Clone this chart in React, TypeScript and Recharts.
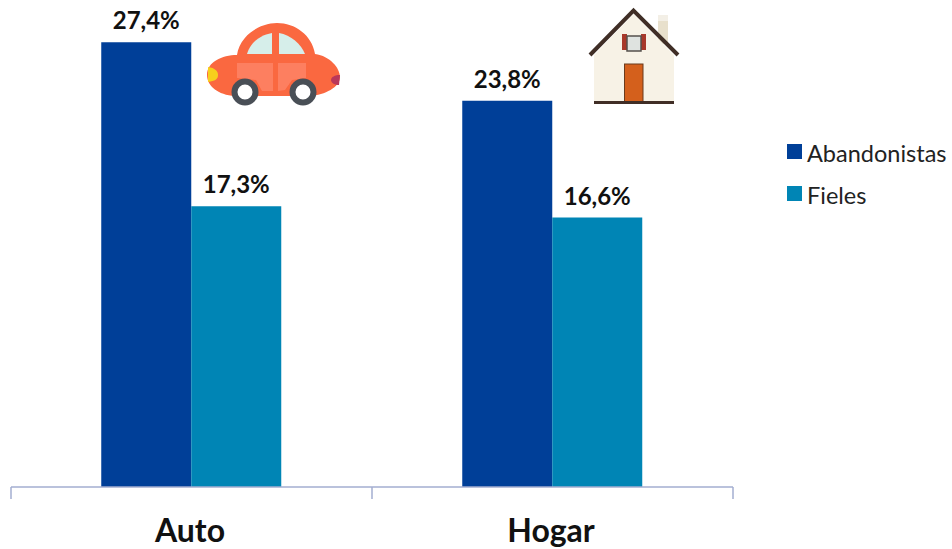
import { Bar, BarChart, LabelList, Legend, XAxis, YAxis } from "recharts";

const categories = ["Auto", "Hogar"];
const abandonistas = [27.4, 23.8];
const fieles = [17.3, 16.6];
const data = categories.map((name, i) => ({ name, Abandonistas: abandonistas[i], Fieles: fieles[i] }));

const FONT = "Lato, 'Open Sans', sans-serif";
const AXIS_COLOR = "#a3aed0";

const fmt = (v: any) => String(v.toFixed(1)).replace(".", ",") + "%";

function CatTick(props: any) {
    const { x, y, payload, index, visibleTicksCount, width } = props;
    const half = width / (visibleTicksCount || 2) / 2;
    const isLast = index === visibleTicksCount - 1;
    const top = y - 8;
    return (
        <g>
            <line x1={x - half} x2={x - half} y1={top} y2={top + 12} stroke={AXIS_COLOR} strokeWidth={1.5} />
            {isLast && <line x1={x + half} x2={x + half} y1={top} y2={top + 12} stroke={AXIS_COLOR} strokeWidth={1.5} />}
            <text x={x - 1.5} y={top + 55} textAnchor="middle" fontFamily={FONT} fontWeight={700} fontSize={32} fill="#111">
                {payload.value}
            </text>
        </g>
    );
}

function LegendBox({ payload }: any) {
    return (
        <div>
            {(payload || []).map((e: any) => (
                <div key={e.value} style={{ height: 42, display: "flex", alignItems: "center" }}>
                    <span style={{ width: 15, height: 15, marginRight: 5, background: e.color, position: "relative", top: -1.5 }} />
                    <span style={{ color: "#222" }}>{e.value}</span>
                </div>
            ))}
        </div>
    );
}

function Car() {
    return (
        <g filter="url(#soft)">
            <path d="M237 55C240 35 260 23 277 23C295 23 312 35 315 54C330 56 340 68 340 77C340 87 325 95 310 96L235 96C218 95 207 86 207 75C207 62 222 55 237 55Z" fill="#fa6740" />
            <path d="M247 54C250 43 260 35 272 33L272 54Z" fill="#d6eeea" />
            <path d="M279 33C291 35 301 44 305 54L279 54Z" fill="#d6eeea" />
            <path d="M237 63L273 63L273 91L262 91L256 80L237 78Z" fill="#fd7f60" />
            <path d="M278 63L306 63L306 78L292 80L285 90L278 91Z" fill="#fd7f60" />
            <circle cx={245} cy={92} r={10.5} fill="#fff" stroke="#4a4f57" strokeWidth={6} />
            <circle cx={303} cy={92} r={10.5} fill="#fff" stroke="#4a4f57" strokeWidth={6} />
            <path d="M208 67C215 68 218 71 218 75C218 79 215 81 208 82Z" fill="#f7cf1f" />
            <path d="M340 75C335 75 331 77 331 80C331 83 335 85 339 85Z" fill="#b9375a" />
        </g>
    );
}

function House() {
    return (
        <g filter="url(#soft)">
            <rect x={658} y={20} width={10} height={24} fill="#e8e0cc" />
            <rect x={658} y={15} width={10} height={6} fill="#f3efe6" />
            <path d="M633.5 14L674 55L674 103L594 103L594 55Z" fill="#f7f2e6" />
            <path d="M590 55L633.5 10.5L678 55" fill="none" stroke="#3f2f28" strokeWidth={4} />
            <rect x={622} y={34} width={5} height={16} fill="#a8382a" />
            <rect x={641} y={34} width={5} height={16} fill="#a8382a" />
            <rect x={627} y={36} width={14} height={15} fill="#dfe3e0" stroke="#55504c" strokeWidth={1.5} />
            <rect x={624.5} y={64} width={18.5} height={38} fill="#d4601a" stroke="#6b3a1c" strokeWidth={1} />
            <rect x={594} y={101} width={80} height={3} fill="#3f2f28" />
        </g>
    );
}

export default function App() {
    return (
        <div style={{ position: "absolute", left: 0, top: 0, width: 952, height: 549 }}>
            <BarChart
                width={952}
                height={549}
                data={data}
                margin={{ top: 0, right: 49, left: 11, bottom: 0 }}
                barCategoryGap="25%"
                barGap={0}
            >
                <XAxis
                    dataKey="name"
                    height={62}
                    axisLine={{ stroke: AXIS_COLOR, strokeWidth: 1.5 }}
                    tickLine={false}
                    tick={<CatTick />}
                    interval={0}
                />
                <YAxis hide domain={[0, 30]} />
                <Legend
                    layout="vertical"
                    align="right"
                    verticalAlign="top"
                    content={<LegendBox />}
                    wrapperStyle={{ left: 787, top: 132, width: 170, fontFamily: FONT, fontSize: 23.5 }}
                />
                <Bar dataKey="Abandonistas" fill="#003f98" isAnimationActive={false}>
                    <LabelList dataKey="Abandonistas" position="top" offset={13} formatter={fmt} fontFamily={FONT} fontWeight={700} fontSize={24} fill="#111" />
                </Bar>
                <Bar dataKey="Fieles" fill="#0085b5" isAnimationActive={false}>
                    <LabelList dataKey="Fieles" position="top" offset={13} formatter={fmt} fontFamily={FONT} fontWeight={700} fontSize={24} fill="#111" />
                </Bar>
            </BarChart>
            {/* iconos encima del grafico */}
            <svg width={952} height={549} style={{ position: "absolute", left: 0, top: 0, pointerEvents: "none" }}>
                <defs>
                    <filter id="soft"><feGaussianBlur stdDeviation={0.5} /></filter>
                </defs>
                <Car />
                <House />
            </svg>
        </div>
    );
}
